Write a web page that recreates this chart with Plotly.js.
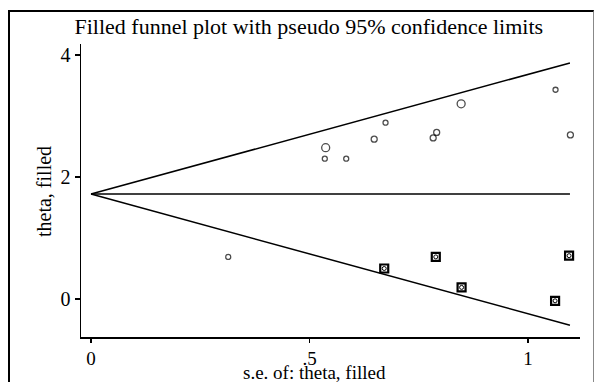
<!DOCTYPE html>
<html>
<head>
<meta charset="utf-8">
<script src="https://cdn.plot.ly/plotly-3.0.1.min.js"></script>
<style>
  html, body { margin: 0; padding: 0; background: #fff; }
  #wrap { position: relative; width: 595px; height: 382px; overflow: hidden; }
  #frame { position: absolute; left: 8px; top: 10px; width: 583px; height: 380px;
           border-left: 2px solid #000; border-top: 2px solid #000; border-right: 1px solid #888;
           pointer-events: none; z-index: 5; }
  #chart { position: absolute; left: 0; top: 0; width: 595px; height: 382px; }
</style>
</head>
<body>
<div id="wrap">
  <div id="chart"></div>
  <div id="frame"></div>
</div>
<script>
// Observed studies: standard error and effect estimate
const obsSE    = [0.537, 0.535, 0.584, 0.648, 0.674, 0.783, 0.791, 0.847, 1.063, 1.097, 0.314];
const obsTheta = [2.48, 2.30, 2.30, 2.62, 2.89, 2.64, 2.73, 3.20, 3.43, 2.69, 0.69];

// Imputed (filled) studies from trim-and-fill
const fillSE    = [0.671, 0.789, 0.848, 1.062, 1.094];
const fillTheta = [0.50, 0.69, 0.19, -0.03, 0.71];

// Pooled estimate and pseudo 95% confidence limits at both ends of the s.e. range
const limitSE    = [0, 1.096];
const pooled     = [1.72, 1.72];
const upperLimit = [1.72, 3.87];
const lowerLimit = [1.72, -0.43];

// Tick labels
const xTickVals = [0, 0.5, 1];
const xTickText = ['0', '.5', '1'];
const yTickVals = [0, 2, 4];
const yTickText = ['0', '2', '4'];

const serif = 'Liberation Serif, Times New Roman, serif';
const lineStyle = { color: '#000', width: 1.5 };

const traces = [
  { x: limitSE, y: upperLimit, mode: 'lines', line: lineStyle, hoverinfo: 'skip' },
  { x: limitSE, y: pooled,     mode: 'lines', line: lineStyle, hoverinfo: 'skip' },
  { x: limitSE, y: lowerLimit, mode: 'lines', line: lineStyle, hoverinfo: 'skip' },
  // filled studies: square outline with a circle inside
  { x: fillSE, y: fillTheta, mode: 'markers',
    marker: { symbol: 'square', size: 8, color: '#fff', line: { color: '#000', width: 2.2 } } },
  { x: fillSE, y: fillTheta, mode: 'markers',
    marker: { symbol: 'circle-open', size: 4, color: '#000', line: { color: '#000', width: 1 } } },
  // observed studies
  { x: obsSE, y: obsTheta, mode: 'markers',
    marker: { symbol: 'circle-open', color: '#000',
              size: [8, 5, 5, 6, 5, 6, 6, 8, 5, 6, 5],
              line: { color: '#000', width: 1.3 } } }
];

const layout = {
  width: 595, height: 382,
  margin: { l: 81, r: 15, t: 44, b: 45 },
  paper_bgcolor: '#fff', plot_bgcolor: '#fff',
  showlegend: false,
  font: { family: serif, color: '#000', size: 20 },
  title: { text: 'Filled funnel plot with pseudo 95% confidence limits',
           font: { family: serif, size: 22, color: '#000' },
           xref: 'container', yref: 'container',
           x: 0.519, xanchor: 'center', y: 0.93, yanchor: 'middle' },
  xaxis: {
    range: [-0.0229, 1.119], showgrid: false, zeroline: false,
    showline: true, linecolor: '#000', linewidth: 1.5,
    ticks: 'outside', ticklen: 4, tickwidth: 1.3, tickcolor: '#000',
    tickvals: xTickVals, ticktext: xTickText,
    tickfont: { family: serif, size: 19, color: '#000' }
  },
  yaxis: {
    range: [-0.623, 4.18], showgrid: false, zeroline: false,
    showline: true, linecolor: '#000', linewidth: 1.5,
    ticks: 'outside', ticklen: 5, tickwidth: 1.3, tickcolor: '#000',
    tickvals: yTickVals, ticktext: yTickText,
    tickfont: { family: serif, size: 20, color: '#000' }
  },
  annotations: [
    { text: 's.e. of: theta, filled', xref: 'paper', yref: 'paper',
      x: (314 - 81) / 499, y: -(372 - 337) / 293, xanchor: 'center', yanchor: 'middle',
      showarrow: false, font: { family: serif, size: 19, color: '#000' } },
    { text: 'theta, filled', xref: 'paper', yref: 'paper', textangle: -90,
      x: (44 - 81) / 499, y: (337 - 192) / 293, xanchor: 'center', yanchor: 'middle',
      showarrow: false, font: { family: serif, size: 20, color: '#000' } }
  ]
};

Plotly.newPlot('chart', traces, layout, { displayModeBar: false, staticPlot: true });
</script>
</body>
</html>
